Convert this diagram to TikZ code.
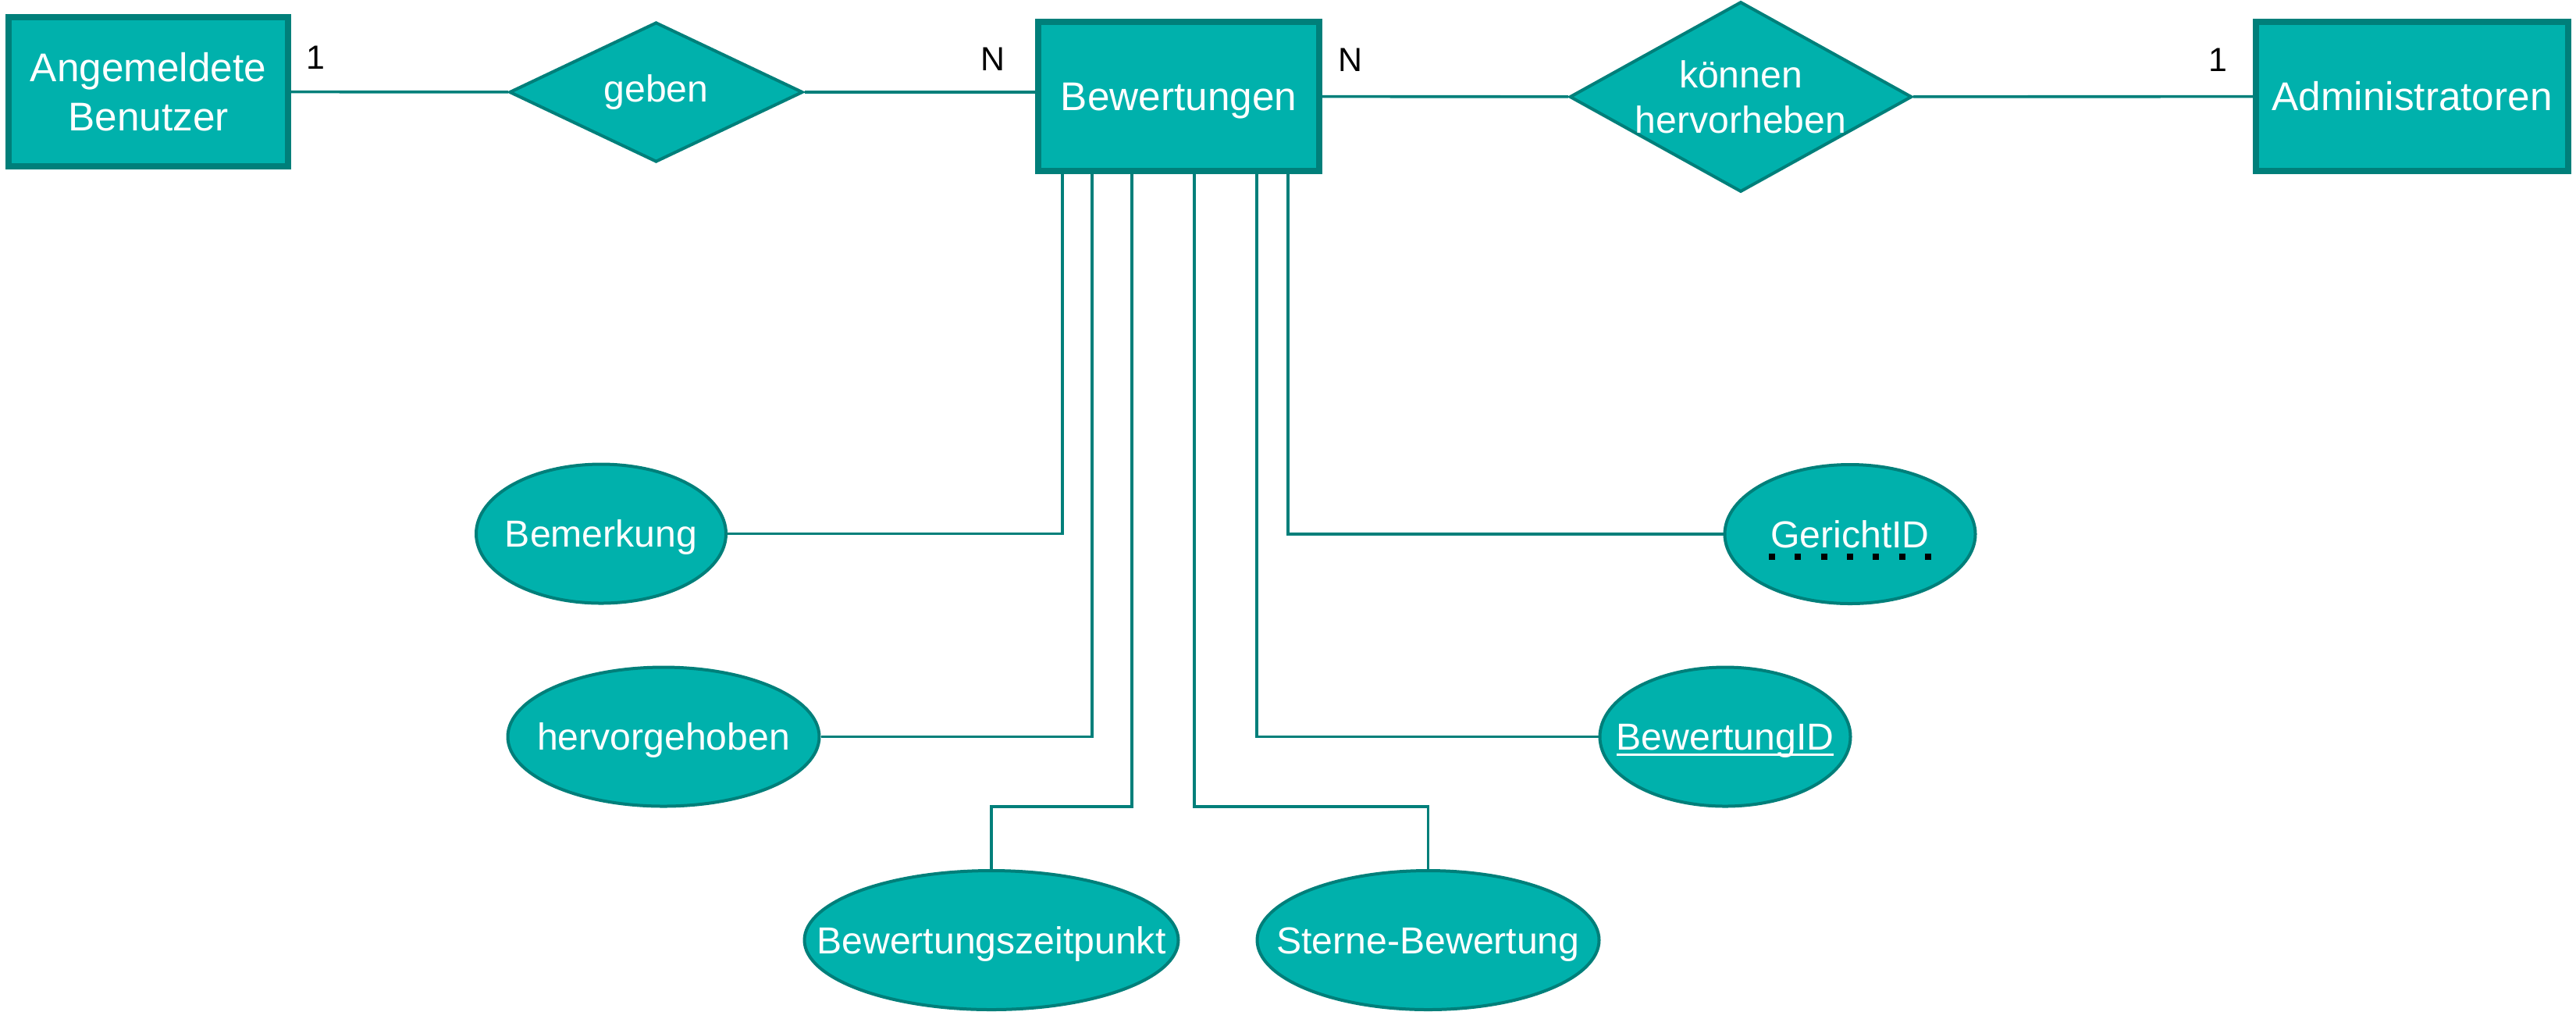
\documentclass[tikz,border=0pt]{standalone}
\usepackage{fontspec}
\setmainfont{Liberation Sans}
\usetikzlibrary{shapes.geometric}

\definecolor{erfill}{HTML}{00B1AC}
\definecolor{erline}{HTML}{007F7A}

% solid key underline
\newcommand{\keyline}[1]{\setbox0\hbox{#1}\rlap{\rule[-2.1pt]{\wd0}{0.85pt}}\box0}

\begin{document}
\begin{tikzpicture}[
    entity/.style={rectangle, draw=erline, line width=0.08cm, fill=erfill, text=white, minimum height=1.91cm, inner sep=0pt, align=center, font=\fontsize{14.6}{17.9}\selectfont},
    oneline/.style={text height=10.5pt, text depth=0pt},
    rel/.style={diamond, draw=erline, line width=0.04cm, fill=erfill, text=white, inner sep=0pt, aspect=1.8, align=center, font=\fontsize{13.7}{16.5}\selectfont},
    attr/.style={ellipse, draw=erline, line width=0.04cm, fill=erfill, text=white, minimum height=1.78cm, inner xsep=-1cm, inner ysep=0pt, text height=9.8pt, text depth=0pt, font=\fontsize{13.7}{16.5}\selectfont},
    card/.style={text=black, inner sep=0pt, text height=8.7pt, text depth=0pt, font=\fontsize{12.2}{14}\selectfont},
    link/.style={draw=erline, line width=0.036cm},
    keydots/.style={draw=black, line width=0.08cm, dash pattern=on 0.08cm off 0.253cm}
]
\useasboundingbox (0,0) rectangle (33,-13.04);

% Entities
\node[entity, minimum width=3.58cm] (benutzer) at (1.90,-1.175) {Angemeldete\\Benutzer};
\node[entity, oneline, minimum width=3.60cm] (bewertungen) at (15.10,-1.235) {Bewertungen};
\node[entity, oneline, minimum width=4.00cm] (admins) at (30.90,-1.235) {Administratoren};

% Relationships
\node[rel, minimum width=3.76cm, minimum height=1.79cm] (geben) at (8.405,-1.18) {geben};
\node[rel, minimum width=4.36cm, minimum height=2.39cm] (hervorheben) at (22.30,-1.24) {können\\hervorheben};

% Attributes
\node[attr, minimum width=3.20cm] (bemerkung) at (7.70,-6.835) {Bemerkung};
\node[attr, minimum width=3.99cm] (hervorgehoben) at (8.50,-9.435) {hervorgehoben};
\node[attr, minimum width=4.79cm] (zeitpunkt) at (12.70,-12.04) {Bewertungszeitpunkt};
\node[attr, minimum width=4.38cm] (sterne) at (18.295,-12.04) {Sterne-Bewertung};
\node[attr, minimum width=3.21cm] (bewertungid) at (22.10,-9.435) {\keyline{BewertungID}};
\node[attr, minimum width=3.21cm] (gerichtid) at (23.70,-6.84) {GerichtID};

% Partial key
\draw[keydots] ([xshift=-1.04cm,yshift=-0.29cm]gerichtid.center) -- ([xshift=1.04cm,yshift=-0.29cm]gerichtid.center);

% Cardinalities
\node[card] (card1) at (4.04,-0.73) {1};
\node[card] (card2) at (12.72,-0.75) {N};
\node[card] (card3) at (17.30,-0.76) {N};
\node[card] (card4) at (28.41,-0.76) {1};

% Relationship lines
\draw[link] (benutzer) -- (geben);
\draw[link] (geben.east) -- (geben.east -| bewertungen.west);
\draw[link] (bewertungen) -- (hervorheben);
\draw[link] (hervorheben) -- (admins);

% Attribute lines
\draw[link] ([xshift=0.35cm]bewertungen.south west) |- (bemerkung.east);
\draw[link] ([xshift=0.73cm]bewertungen.south west) |- (hervorgehoben.east);
\draw[link] ([xshift=1.24cm]bewertungen.south west) |- ([yshift=0.8cm]zeitpunkt.north) -- (zeitpunkt.north);
\draw[link] ([xshift=2.04cm]bewertungen.south west) |- ([yshift=0.8cm]sterne.north) -- (sterne.north);
\draw[link] ([xshift=2.84cm]bewertungen.south west) |- (bewertungid.west);
\draw[link] ([xshift=3.24cm]bewertungen.south west) |- (gerichtid.west);

\end{tikzpicture}
\end{document}
